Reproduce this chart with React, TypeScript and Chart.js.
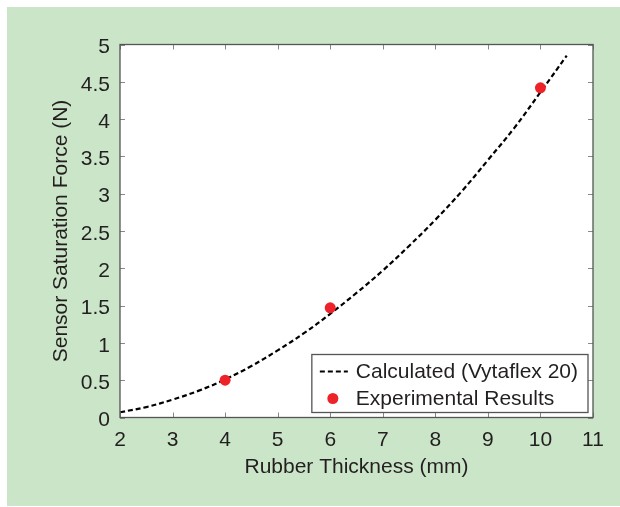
import React, { useEffect, useRef } from "react";
import { Chart, registerables } from "chart.js";

Chart.register(...registerables);

const curveLabel = "Calculated (Vytaflex 20)";
const expLabel = "Experimental Results";
const curveX = [2, 2.5, 3, 3.5, 4, 4.5, 5, 5.5, 6, 6.5, 7, 7.5, 8, 8.5, 9, 9.5, 10, 10.5];
const curveY = [0.07, 0.14, 0.24, 0.36, 0.51, 0.69, 0.9, 1.13, 1.39, 1.67, 1.97, 2.3, 2.65, 3.03, 3.45, 3.88, 4.36, 4.85];
const expX = [4, 6, 10];
const expY = [0.5, 1.47, 4.42];
const xTitle = "Rubber Thickness (mm)";
const yTitle = "Sensor Saturation Force (N)";

const FONT = "'Liberation Sans', Arial, Helvetica, sans-serif";
const FS = 21;
const TEXT = "#231f20";
const FRAME = "#555555";
const GREEN = "#cbe5c8";
const RED = "#ee2229";

const bgPlugin = {
  id: "bgPlugin",
  beforeDraw(chart: any) {
    const { ctx, width, height, chartArea } = chart;
    ctx.save();
    ctx.fillStyle = "#ffffff";
    ctx.fillRect(0, 0, width, height);
    ctx.fillStyle = GREEN;
    ctx.fillRect(7, 7, width - 7, height - 8);
    ctx.fillStyle = "#ffffff";
    ctx.fillRect(chartArea.left, chartArea.top, chartArea.right - chartArea.left, chartArea.bottom - chartArea.top);
    ctx.restore();
  },
};

const framePlugin = {
  id: "framePlugin",
  afterDatasetsDraw(chart: any) {
    const { ctx, chartArea } = chart;
    const { left, right, top, bottom } = chartArea;
    const xs = chart.scales.x;
    const ys = chart.scales.y;
    const tl = 5;
    ctx.save();
    ctx.strokeStyle = "#888888";
    ctx.lineWidth = 1;
    ctx.beginPath();
    xs.ticks.forEach((t: any) => {
      const px = Math.round(xs.getPixelForValue(t.value)) + 0.5;
      ctx.moveTo(px, bottom);
      ctx.lineTo(px, bottom - tl);
      ctx.moveTo(px, top);
      ctx.lineTo(px, top + tl);
    });
    ys.ticks.forEach((t: any) => {
      const py = Math.round(ys.getPixelForValue(t.value)) + 0.5;
      ctx.moveTo(left, py);
      ctx.lineTo(left + tl, py);
      ctx.moveTo(right, py);
      ctx.lineTo(right - tl, py);
    });
    ctx.stroke();
    ctx.strokeStyle = FRAME;
    ctx.lineWidth = 1.3;
    ctx.strokeRect(left, top, right - left, bottom - top);
    ctx.restore();
  },
  afterDraw(chart: any) {
    const { ctx, chartArea } = chart;
    const ds = chart.data.datasets;
    ctx.save();
    ctx.font = `${FS}px ${FONT}`;
    const textW = Math.max(...ds.map((d: any) => ctx.measureText(d.label).width));
    const boxW = 44 + textW + 10;
    const rowH = 27;
    const boxH = 58;
    const bx = chartArea.right - 5 - boxW;
    const by = chartArea.bottom - 5 - boxH;
    ctx.fillStyle = "#ffffff";
    ctx.fillRect(bx, by, boxW, boxH);
    ctx.strokeStyle = FRAME;
    ctx.lineWidth = 1.3;
    ctx.strokeRect(bx, by, boxW, boxH);
    ds.forEach((d: any, i: number) => {
      const cy = by + 17 + i * rowH;
      if (d.showLine) {
        ctx.strokeStyle = d.borderColor;
        ctx.lineWidth = d.borderWidth;
        ctx.setLineDash(d.borderDash);
        ctx.beginPath();
        ctx.moveTo(bx + 8, cy);
        ctx.lineTo(bx + 36, cy);
        ctx.stroke();
        ctx.setLineDash([]);
      } else {
        ctx.fillStyle = d.backgroundColor;
        ctx.beginPath();
        ctx.arc(bx + 21, cy, d.pointRadius, 0, Math.PI * 2);
        ctx.fill();
      }
      ctx.fillStyle = TEXT;
      ctx.textAlign = "left";
      ctx.textBaseline = "middle";
      ctx.fillText(d.label, bx + 44, cy + 1);
    });
    ctx.restore();
  },
};

export default function App() {
  const ref = useRef<HTMLCanvasElement>(null);
  useEffect(() => {
    if (!ref.current) return;
    const chart = new Chart(ref.current, {
      type: "scatter",
      data: {
        datasets: [
          {
            label: curveLabel,
            data: curveX.map((x, i) => ({ x, y: curveY[i] })),
            showLine: true,
            borderColor: "#000000",
            backgroundColor: "#000000",
            borderWidth: 2.2,
            borderDash: [5, 3],
            pointRadius: 0,
            tension: 0.4,
            order: 2,
          },
          {
            label: expLabel,
            data: expX.map((x, i) => ({ x, y: expY[i] })),
            showLine: false,
            borderColor: RED,
            backgroundColor: RED,
            pointRadius: 5.5,
            pointBorderWidth: 0,
            order: 1,
          },
        ],
      },
      options: {
        responsive: false,
        animation: false,
        layout: { padding: { left: 0, top: 44.5, right: 27, bottom: 0 } },
        plugins: { legend: { display: false }, tooltip: { enabled: false } },
        scales: {
          x: {
            type: "linear",
            min: 2,
            max: 11,
            afterFit: (s: any) => { s.height = 89.5; },
            grid: { display: false, drawTicks: false },
            border: { display: false },
            ticks: {
              stepSize: 1,
              padding: 10,
              color: TEXT,
              font: { family: FONT, size: FS },
              callback: (v: any) => String(v),
            },
            title: {
              display: true,
              text: xTitle,
              color: TEXT,
              font: { family: FONT, size: FS },
              padding: { top: 0, bottom: 27 },
            },
          },
          y: {
            type: "linear",
            min: 0,
            max: 5,
            afterFit: (s: any) => { s.width = 120; },
            grid: { display: false, drawTicks: false },
            border: { display: false },
            ticks: {
              stepSize: 0.5,
              padding: 10,
              labelOffset: 3,
              color: TEXT,
              font: { family: FONT, size: FS },
              callback: (v: any) => String(Number(v)),
            },
            title: {
              display: true,
              text: yTitle,
              color: TEXT,
              font: { family: FONT, size: FS },
              padding: { top: 49, bottom: 0 },
            },
          },
        },
      },
      plugins: [bgPlugin, framePlugin],
    });
    return () => chart.destroy();
  }, []);
  return (
    <div style={{ position: "fixed", left: 0, top: 0, width: 620, height: 507 }}>
      <canvas ref={ref} width={620} height={507} style={{ width: 620, height: 507, display: "block" }} />
    </div>
  );
}
